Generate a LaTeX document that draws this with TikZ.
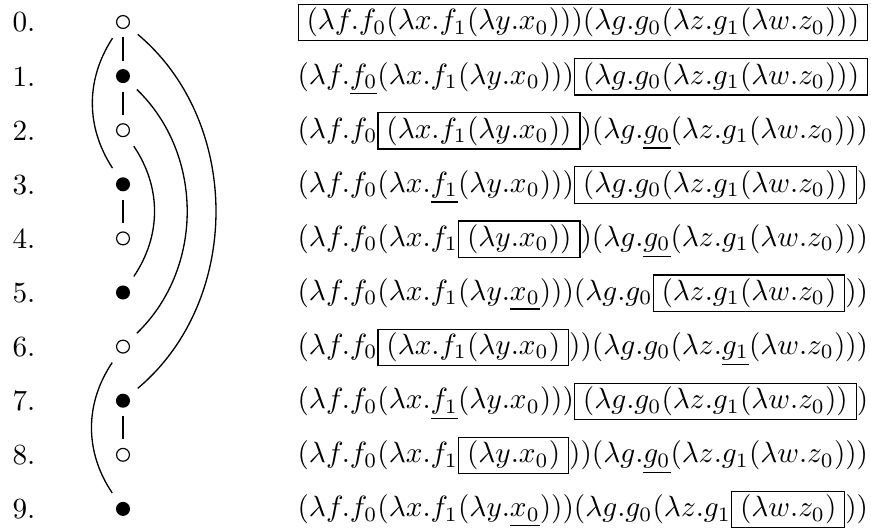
\documentclass[tikz,border=0pt]{standalone}
\usepackage{amsmath}
\usetikzlibrary{positioning}

\setlength{\fboxsep}{1pt}
\newcommand{\rdx}[1]{\fbox{$\,#1\,$}}

\tikzset{
  opendot/.style={circle, draw, line width=0.4pt, inner sep=0pt, minimum size=4.4pt, outer sep=3.1pt},
  fulldot/.style={circle, fill, inner sep=0pt, minimum size=4.8pt, outer sep=2.9pt},
  link/.style={line width=0.45pt},
  arc/.style={link, shorten <=1.3pt, shorten >=1.3pt},
  expr/.style={anchor=base west, inner sep=0pt},
  num/.style={anchor=base west, inner sep=0pt},
}

\begin{document}
\begin{tikzpicture}[x=0.342pt, y=-0.342pt]
    \useasboundingbox (0,0) rectangle (871,531);

    % step numbers and dots
    \foreach \i in {0,...,9}
        \node[num] (n\i) at (12,{32+54.1*\i}) {\i.};
    \foreach \i in {0,2,4,6,8}
        \node[opendot] (d\i) at (123,{22+54.1*\i}) {};
    \foreach \i in {1,3,5,7,9}
        \node[fulldot] (d\i) at (123,{22+54.1*\i}) {};

    % straight links
    \draw[link] (d0) -- (d1);
    \draw[link] (d1) -- (d2);
    \draw[link] (d3) -- (d4);
    \draw[link] (d7) -- (d8);

    % arcs on the left
    \draw[arc] (d0) to[bend right=33] (d3);
    \draw[arc] (d6) to[bend right=34] (d9);

    % arcs on the right
    \draw[arc] (d0) to[bend left=50] (d7);
    \draw[arc] (d1) to[bend left=46] (d6);
    \draw[arc] (d2) to[bend left=34] (d5);

    % reduction steps
    \node[expr] (e0) at (297,30) {$\rdx{(\lambda f.f_0(\lambda x.f_1(\lambda y.x_0)))(\lambda g.g_0(\lambda z.g_1(\lambda w.z_0)))}$};
    \node[expr] (e1) at (297,84.1) {$(\lambda f.\underline{f_0}(\lambda x.f_1(\lambda y.x_0)))\rdx{(\lambda g.g_0(\lambda z.g_1(\lambda w.z_0)))}$};
    \node[expr] (e2) at (297,138.2) {$(\lambda f.f_0\rdx{(\lambda x.f_1(\lambda y.x_0))})(\lambda g.\underline{g_0}(\lambda z.g_1(\lambda w.z_0)))$};
    \node[expr] (e3) at (297,192.3) {$(\lambda f.f_0(\lambda x.\underline{f_1}(\lambda y.x_0)))\rdx{(\lambda g.g_0(\lambda z.g_1(\lambda w.z_0))})$};
    \node[expr] (e4) at (297,246.4) {$(\lambda f.f_0(\lambda x.f_1\rdx{(\lambda y.x_0))})(\lambda g.\underline{g_0}(\lambda z.g_1(\lambda w.z_0)))$};
    \node[expr] (e5) at (297,300.5) {$(\lambda f.f_0(\lambda x.f_1(\lambda y.\underline{x_0})))(\lambda g.g_0\rdx{(\lambda z.g_1(\lambda w.z_0)}))$};
    \node[expr] (e6) at (297,354.6) {$(\lambda f.f_0\rdx{(\lambda x.f_1(\lambda y.x_0)}))(\lambda g.g_0(\lambda z.\underline{g_1}(\lambda w.z_0)))$};
    \node[expr] (e7) at (297,408.7) {$(\lambda f.f_0(\lambda x.\underline{f_1}(\lambda y.x_0)))\rdx{(\lambda g.g_0(\lambda z.g_1(\lambda w.z_0))})$};
    \node[expr] (e8) at (297,462.8) {$(\lambda f.f_0(\lambda x.f_1\rdx{(\lambda y.x_0)}))(\lambda g.\underline{g_0}(\lambda z.g_1(\lambda w.z_0)))$};
    \node[expr] (e9) at (297,516.9) {$(\lambda f.f_0(\lambda x.f_1(\lambda y.\underline{x_0})))(\lambda g.g_0(\lambda z.g_1\rdx{(\lambda w.z_0)}))$};
\end{tikzpicture}
\end{document}
